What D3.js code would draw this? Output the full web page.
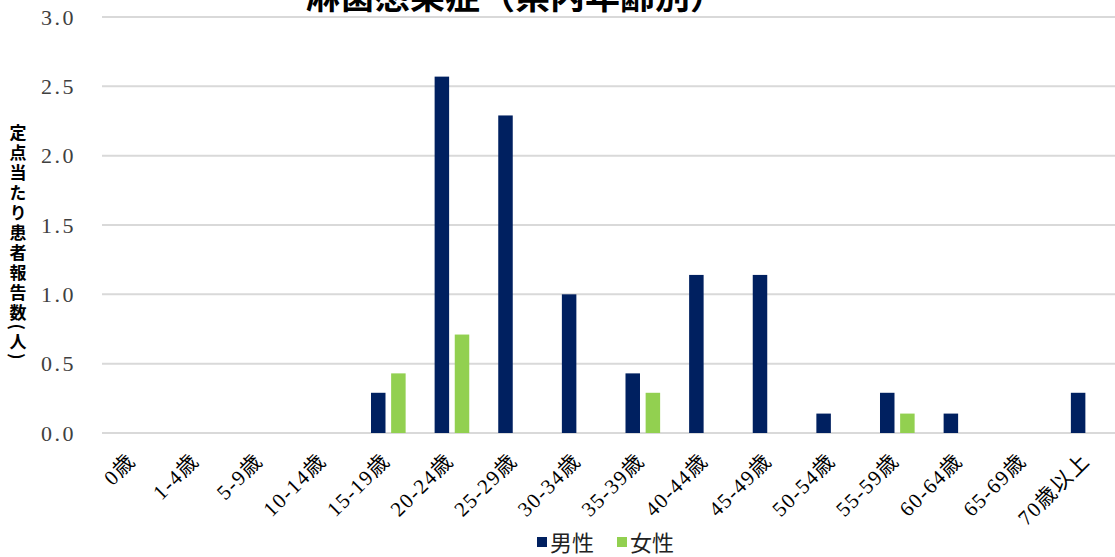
<!DOCTYPE html>
<html>
<head>
<meta charset="utf-8">
<script src="https://cdn.jsdelivr.net/npm/d3@7"></script>
<style>
  body { margin: 0; background: #fff; overflow: hidden; }
</style>
</head>
<body>
<div id="chart"></div>
<script>
// data
var categories = ["0歳", "1-4歳", "5-9歳", "10-14歳", "15-19歳", "20-24歳", "25-29歳", "30-34歳",
  "35-39歳", "40-44歳", "45-49歳", "50-54歳", "55-59歳", "60-64歳", "65-69歳", "70歳以上"];
var male = [0, 0, 0, 0, 0.29, 2.57, 2.29, 1.0, 0.43, 1.14, 1.14, 0.14, 0.29, 0.14, 0, 0.29];
var female = [0, 0, 0, 0, 0.43, 0.71, 0, 0, 0.29, 0, 0, 0, 0.14, 0, 0, 0];
var seriesNames = ["男性", "女性"];
var seriesColors = ["#002060", "#92d050"];
var yTicks = [0, 0.5, 1.0, 1.5, 2.0, 2.5, 3.0];

var width = 1115, height = 557;
var margin = {left: 102, right: -5, top: 17, bottom: 124};

var svg = d3.select("#chart").append("svg")
  .attr("width", width)
  .attr("height", height);

var x = d3.scaleBand()
  .domain(categories)
  .range([margin.left, width - margin.right])
  .paddingInner(0).paddingOuter(0);

var x1 = d3.scaleBand()
  .domain(seriesNames)
  .range([0, x.bandwidth()])
  .paddingInner(0.28)
  .paddingOuter(0.72);

var y = d3.scaleLinear()
  .domain([0, 3])
  .range([height - margin.bottom, margin.top]);

//Gridlines
svg.append("g")
  .selectAll("line")
  .data(yTicks)
  .join("line")
  .attr("x1", margin.left)
  .attr("x2", width)
  .attr("y1", d => y(d))
  .attr("y2", d => y(d))
  .style("stroke", "#d9d9d9")
  .style("stroke-width", "2px");

//Y axis labels
svg.append("g")
  .selectAll("text")
  .data(yTicks)
  .join("text")
  .attr("x", 76)
  .attr("y", d => y(d))
  .attr("dy", "0.35em")
  .attr("text-anchor", "end")
  .style("font-family", "'Liberation Serif', 'Times New Roman', serif")
  .style("font-size", "22px")
  .style("letter-spacing", "2.5px")
  .style("fill", "#404040")
  .text(d => d.toFixed(1));

//Bars
var seriesData = [male, female];
seriesData.forEach(function(values, s) {
  svg.append("g")
    .selectAll("rect")
    .data(values)
    .join("rect")
    .attr("x", (d, i) => x(categories[i]) + x1(seriesNames[s]))
    .attr("width", x1.bandwidth())
    .attr("y", d => y(d))
    .attr("height", d => y(0) - y(d))
    .style("fill", seriesColors[s]);
});

//X axis labels
svg.append("g")
  .selectAll("text")
  .data(categories)
  .join("text")
  .attr("text-anchor", "end")
  .attr("transform", d => "translate(" + (x(d) + x.bandwidth() / 2 + 3) + "," + 462 + ") rotate(-45)")
  .style("font-family", "'Liberation Serif', 'Times New Roman', 'Noto Sans CJK JP', serif")
  .style("font-size", "21px")
  .style("letter-spacing", "1.5px")
  .style("fill", "#000")
  .text(d => d);

//Y axis title
svg.append("text")
  .attr("x", 18)
  .attr("y", 243)
  .attr("text-anchor", "middle")
  .style("writing-mode", "vertical-rl")
  .style("font-family", "'Noto Sans CJK JP', sans-serif")
  .style("font-size", "17px")
  .style("letter-spacing", "3px")
  .style("font-weight", "bold")
  .style("fill", "#000")
  .text("定点当たり患者報告数(人)");

//Title
svg.append("text")
  .attr("x", 515)
  .attr("y", 9)
  .attr("text-anchor", "middle")
  .style("font-family", "'Noto Sans CJK JP', sans-serif")
  .style("font-size", "35px")
  .style("font-weight", "bold")
  .style("fill", "#000")
  .text("淋菌感染症（県内年齢別）");

//Legend
var legendX = [537, 617];
seriesNames.forEach(function(name, s) {
  svg.append("rect")
    .attr("x", legendX[s])
    .attr("y", 537)
    .attr("width", 10)
    .attr("height", 10)
    .style("fill", seriesColors[s]);
  svg.append("text")
    .attr("x", legendX[s] + 13)
    .attr("y", 543)
    .attr("dy", "0.35em")
    .style("font-family", "'Noto Sans CJK JP', sans-serif")
    .style("font-size", "22px")
    .style("fill", "#222")
    .text(name);
});
</script>
</body>
</html>
